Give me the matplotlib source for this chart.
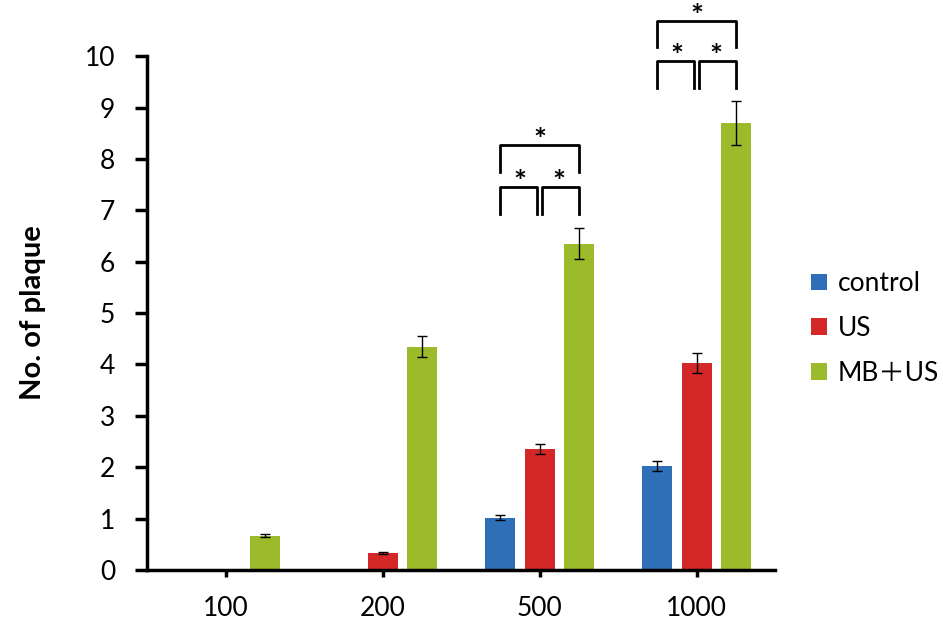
# plaque counts per dose group, control vs US vs MB+US

import numpy as np
import matplotlib.pyplot as plt

plt.rcParams['font.family'] = ['Lato', 'Noto Sans CJK JP', 'DejaVu Sans']

# data
doses = ["100", "200", "500", "1000"]
groups = ["control", "US", "MB\uff0bUS"]
control_mean = [0, 0, 1.02, 2.02]
control_err = [0, 0, 0.05, 0.1]
us_mean = [0, 0.33, 2.36, 4.03]
us_err = [0, 0.02, 0.1, 0.2]
mbus_mean = [0.67, 4.35, 6.35, 8.7]
mbus_err = [0.03, 0.2, 0.3, 0.43]

colors = ["#2e6fb7", "#d42828", "#9bbb2a"]

# significance brackets: (dose index, low bracket y, high bracket y)
brackets = [(2, 6.93, 7.75), (3, 9.38, 10.17)]

fig = plt.figure(figsize=(9.43, 6.22), dpi=100)
ax = fig.add_axes([0.156, 0.0836, 0.666, 0.826])

x = np.arange(len(doses))
width = 0.19
offsets = [-0.25, 0, 0.25]
means = [control_mean, us_mean, mbus_mean]
errs = [control_err, us_err, mbus_err]

for i in range(3):
    m = np.array(means[i])
    e = np.array(errs[i])
    show = m > 0
    ax.bar(x[show] + offsets[i], m[show], width, color=colors[i], label=groups[i])
    ax.errorbar(x[show] + offsets[i], m[show], yerr=e[show], fmt="none",
                ecolor="black", elinewidth=1, capsize=3.5, capthick=1)

# significance brackets
h = 0.52
for idx, lo, hi in brackets:
    xl = idx + offsets[0]
    xm = idx + offsets[1]
    xr = idx + offsets[2]
    gap = 0.015
    kw = dict(color="black", lw=2, clip_on=False)
    ax.plot([xl, xl, xm - gap, xm - gap], [lo, lo + h, lo + h, lo], **kw)
    ax.plot([xm + gap, xm + gap, xr, xr], [lo, lo + h, lo + h, lo], **kw)
    ax.plot([xl, xl, xr, xr], [hi, hi + h, hi + h, hi], **kw)
    for sx in [(xl + xm) / 2, (xm + xr) / 2]:
        ax.text(sx, lo + h + 0.08, "*", ha="center", va="center", fontsize=22,
                fontweight="bold", clip_on=False)
    ax.text(xm, hi + h + 0.08, "*", ha="center", va="center", fontsize=22,
            fontweight="bold", clip_on=False)

ax.set_xlim(-0.5, 3.5)
ax.set_ylim(0, 10)
ax.set_yticks(range(11))
ax.set_xticks(x)
ax.set_xticklabels(doses)
ax.tick_params(axis="both", labelsize=19, width=2.5, direction="out")
ax.tick_params(axis="y", length=9, pad=14)
ax.tick_params(axis="x", pad=14, length=5)
ax.spines["top"].set_visible(False)
ax.spines["right"].set_visible(False)
ax.spines["left"].set_linewidth(2.5)
ax.spines["bottom"].set_linewidth(2.5)
ax.set_ylabel("No. of plaque", fontsize=21, fontweight="bold", labelpad=28)

ax.legend(loc="center left", bbox_to_anchor=(1.02, 0.47), frameon=False,
          fontsize=19, handlelength=0.6, handleheight=0.6, handletextpad=0.4,
          labelspacing=0.75)

plt.savefig("out.png", dpi=100)
